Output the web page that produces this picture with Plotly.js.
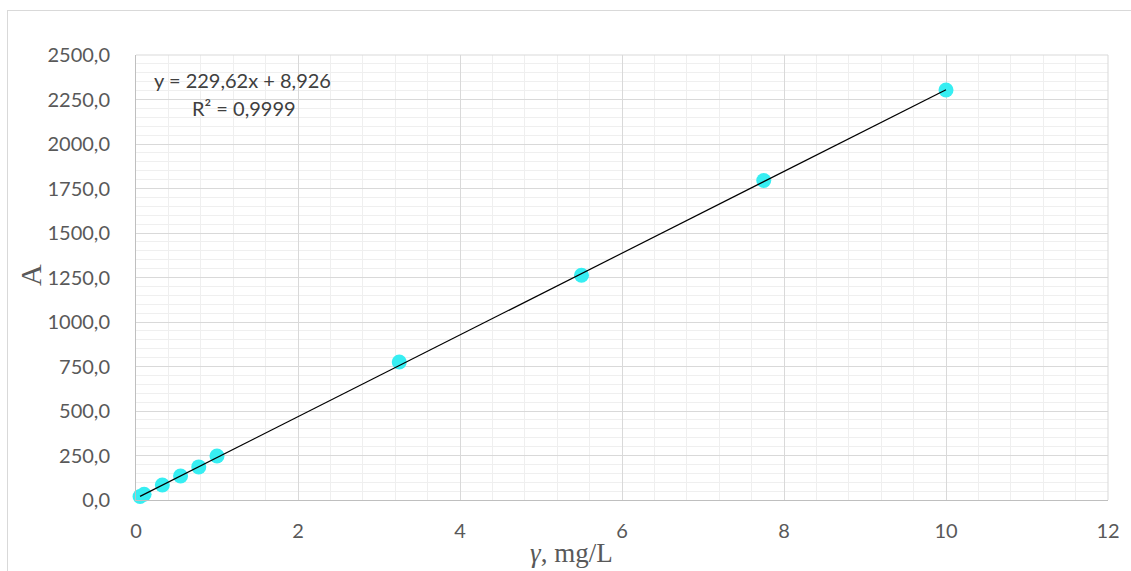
<!DOCTYPE html>
<html>
<head>
<meta charset="utf-8">
<script src="https://cdn.plot.ly/plotly-3.0.1.min.js"></script>
<style>
  html, body { margin: 0; padding: 0; background: #fff; overflow: hidden; }
  #frame { position: absolute; left: 7px; top: 10px; width: 1140px; height: 590px; border: 1px solid #D9D9D9; }
  #chart { position: absolute; left: 0; top: 0; width: 1131px; height: 571px; }
</style>
</head>
<body>
<div id="frame"></div>
<div id="chart"></div>
<script>
// Data
const concentrations = [0.05, 0.1, 0.325, 0.55, 0.775, 1.0, 3.25, 5.5, 7.75, 10.0];
const absorbances   = [20, 32, 84, 135, 186, 247, 775, 1263, 1795, 2303];
const xTickValues = [0, 2, 4, 6, 8, 10, 12];
const xTickLabels = ["0", "2", "4", "6", "8", "10", "12"];
const yTickValues = [0, 250, 500, 750, 1000, 1250, 1500, 1750, 2000, 2250, 2500];
const yTickLabels = ["0,0", "250,0", "500,0", "750,0", "1000,0", "1250,0", "1500,0", "1750,0", "2000,0", "2250,0", "2500,0"];
const fitSlope = 229.62;
const fitIntercept = 8.926;
const equationText = "y = 229,62x + 8,926";
const r2Text = "R² = 0,9999";
const xTitle = "<i>γ</i>, mg/L";
const yTitle = "A";

const xMin = Math.min(...concentrations), xMax = Math.max(...concentrations);
const trendX = [xMin, xMax];
const trendY = trendX.map(x => fitSlope * x + fitIntercept);

const tickFont = { family: "Lato, 'Noto Sans', sans-serif", size: 20, color: "#595959" };
const serif = "'Liberation Serif', 'DejaVu Serif', serif";

const data = [
  {
    x: concentrations, y: absorbances, type: "scatter", mode: "markers",
    marker: { color: "#37EEF2", size: 15 }, showlegend: false, cliponaxis: false
  },
  {
    x: trendX, y: trendY, type: "scatter", mode: "lines",
    line: { color: "#000000", width: 1.2 }, showlegend: false
  }
];

const layout = {
  width: 1131, height: 571,
  margin: { l: 136, r: 23, t: 55, b: 71 },
  paper_bgcolor: "rgba(0,0,0,0)", plot_bgcolor: "#fff",
  xaxis: {
    range: [0, 12], tickvals: xTickValues, ticktext: xTickLabels,
    showgrid: true, gridcolor: "#D9D9D9", gridwidth: 1,
    minor: { dtick: 0.4, showgrid: true, gridcolor: "#EFEFEF", gridwidth: 1 },
    showline: true, linecolor: "#BFBFBF", linewidth: 1, mirror: false,
    zeroline: false, ticks: "", tickfont: tickFont, ticklabelstandoff: 13
  },
  yaxis: {
    range: [0, 2500], tickvals: yTickValues, ticktext: yTickLabels,
    showgrid: true, gridcolor: "#D9D9D9", gridwidth: 1,
    minor: { dtick: 50, showgrid: true, gridcolor: "#EFEFEF", gridwidth: 1 },
    showline: true, linecolor: "#BFBFBF", linewidth: 1,
    zeroline: false, ticks: "", tickfont: tickFont, ticklabelstandoff: 21
  },
  shapes: [
    { type: "line", xref: "paper", yref: "paper", x0: 1, x1: 1, y0: 0, y1: 1, line: { color: "#D9D9D9", width: 1 } },
    { type: "line", xref: "paper", yref: "paper", x0: 0, x1: 1, y0: 1, y1: 1, line: { color: "#D9D9D9", width: 1 } }
  ],
  annotations: [
    { xref: "paper", yref: "paper", x: 0.0165, y: 0.944, xanchor: "left", yanchor: "middle", showarrow: false,
      text: equationText, font: { family: "Lato, 'Noto Sans', sans-serif", size: 20, color: "#404040" } },
    { xref: "paper", yref: "paper", x: 0.056, y: 0.88, xanchor: "left", yanchor: "middle", showarrow: false,
      text: r2Text, font: { family: "Lato, 'Noto Sans', sans-serif", size: 20, color: "#404040" } },
    { xref: "paper", yref: "paper", x: (571 - 136) / 972, y: -(553 - 500) / 445, xanchor: "center", yanchor: "middle", showarrow: false,
      text: xTitle, font: { family: serif, size: 27, color: "#595959" } },
    { xref: "paper", yref: "paper", x: -(136 - 30) / 972, y: (500 - 275) / 445, xanchor: "center", yanchor: "middle", showarrow: false,
      textangle: -90, text: yTitle, font: { family: serif, size: 30, color: "#595959" } }
  ]
};

Plotly.newPlot("chart", data, layout, { displayModeBar: false, staticPlot: true });
</script>
</body>
</html>
